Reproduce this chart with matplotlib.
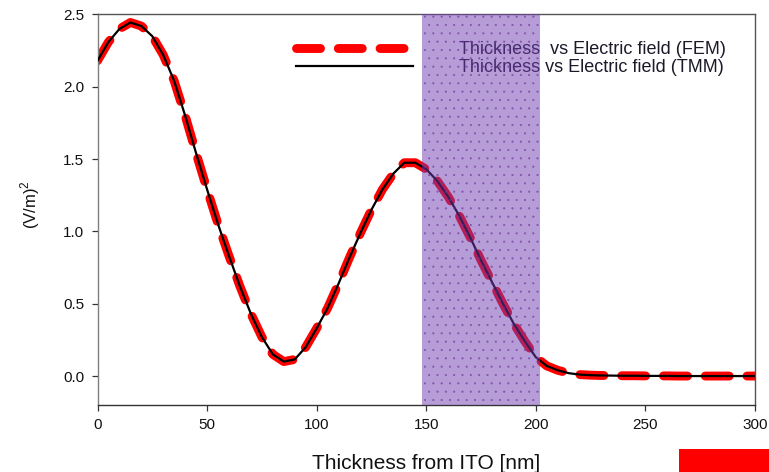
import matplotlib
matplotlib.use('Agg')
import matplotlib.pyplot as plt
from matplotlib.patches import Rectangle
from matplotlib.ticker import FormatStrFormatter

plt.rcParams['font.family'] = ['Liberation Sans', 'DejaVu Sans']
plt.rcParams['mathtext.fontset'] = 'custom'
plt.rcParams['mathtext.rm'] = 'Liberation Sans'
plt.rcParams['hatch.linewidth'] = 0.3

# thickness from ITO (nm) and |E|^2 along the stack
thickness = [0, 5, 10, 15, 20, 25, 30, 35, 40, 45,
             50, 55, 60, 65, 70, 75, 80, 85, 90, 95,
             100, 105, 110, 115, 120, 125, 130, 135, 140, 145,
             150, 155, 160, 165, 170, 175, 180, 185, 190, 195,
             200, 205, 210, 215, 220, 225, 230, 235, 240, 245,
             250, 255, 260, 265, 270, 275, 280, 285, 290, 295, 300]

field_fem = [2.18, 2.31, 2.40, 2.445, 2.42, 2.35, 2.22, 2.04, 1.80, 1.54,
             1.29, 1.05, 0.83, 0.62, 0.43, 0.27, 0.15, 0.10, 0.115, 0.20,
             0.33, 0.47, 0.64, 0.82, 0.99, 1.15, 1.29, 1.40, 1.475, 1.475,
             1.43, 1.35, 1.24, 1.11, 0.96, 0.80, 0.65, 0.50, 0.36, 0.24,
             0.13, 0.07, 0.04, 0.02, 0.01, 0.006, 0.004, 0.003, 0.002, 0.002,
             0.001, 0.001, 0.001, 0.0, 0.0, 0.0, 0.0, 0.0, 0.0, 0.0, 0.0]

field_tmm = [2.18, 2.31, 2.40, 2.445, 2.42, 2.35, 2.22, 2.04, 1.80, 1.54,
             1.29, 1.05, 0.83, 0.62, 0.43, 0.27, 0.15, 0.10, 0.115, 0.20,
             0.33, 0.47, 0.64, 0.82, 0.99, 1.15, 1.29, 1.40, 1.475, 1.475,
             1.43, 1.35, 1.24, 1.11, 0.96, 0.80, 0.65, 0.50, 0.36, 0.24,
             0.13, 0.07, 0.04, 0.02, 0.01, 0.006, 0.004, 0.003, 0.002, 0.002,
             0.001, 0.001, 0.001, 0.0, 0.0, 0.0, 0.0, 0.0, 0.0, 0.0, 0.0]

# active layer band
band = (148, 202)

labels = ['Thickness  vs Electric field (FEM)', 'Thickness vs Electric field (TMM)']

fig = plt.figure(figsize=(7.69, 4.72), dpi=100)
ax = fig.add_axes([0.1268, 0.142, 0.855, 0.8273])

fem, = ax.plot(thickness, field_fem, color='#ff0000', linewidth=6.4,
               linestyle=(0, (2.7, 2.0)), dash_capstyle='round', zorder=2)
tmm, = ax.plot(thickness, field_tmm, color='black', linewidth=1.6, zorder=3)

ax.axvspan(band[0], band[1], facecolor=(0.44, 0.24, 0.69, 0.5),
           edgecolor=(0.42, 0.20, 0.62, 0.65), linewidth=0, hatch='..', zorder=6)

leg = ax.legend([fem, tmm], labels, loc='upper left', bbox_to_anchor=(0.302, 0.932),
                frameon=False, fontsize=13, handlelength=6.5, handletextpad=2.5,
                labelspacing=0.08, borderpad=0, borderaxespad=0)
for t in leg.get_texts():
    t.set_color('#1a1a2a')

ax.set_xlim(0, 300)
ax.set_ylim(-0.2, 2.5)
ax.set_xticks([0, 50, 100, 150, 200, 250, 300])
ax.set_yticks([0.0, 0.5, 1.0, 1.5, 2.0, 2.5])
ax.yaxis.set_major_formatter(FormatStrFormatter('%.1f'))
ax.tick_params(direction='out', length=4.5, width=0.9, labelsize=11,
               colors='#333333', labelcolor='#111111', pad=5)

ax.spines['left'].set_color('#7f7f7f')
ax.spines['bottom'].set_color('#333333')
ax.spines['top'].set_color('#555555')
ax.spines['right'].set_color('#555555')
for s in ax.spines.values():
    s.set_linewidth(1.0)

ax.set_xlabel('Thickness from ITO [nm]', fontsize=15, color='#111111')
ax.set_ylabel('(V/m)$^2$', fontsize=12, color='#111111')
ax.xaxis.set_label_coords(0.5, -0.125)
ax.yaxis.set_label_coords(-0.085, 0.512)

# red marker block in the lower right corner
fig.patches.append(Rectangle((0.883, 0.0), 0.117, 0.049, transform=fig.transFigure,
                             facecolor='#ff0000', edgecolor='none'))

fig.savefig('out.png', dpi=100)
